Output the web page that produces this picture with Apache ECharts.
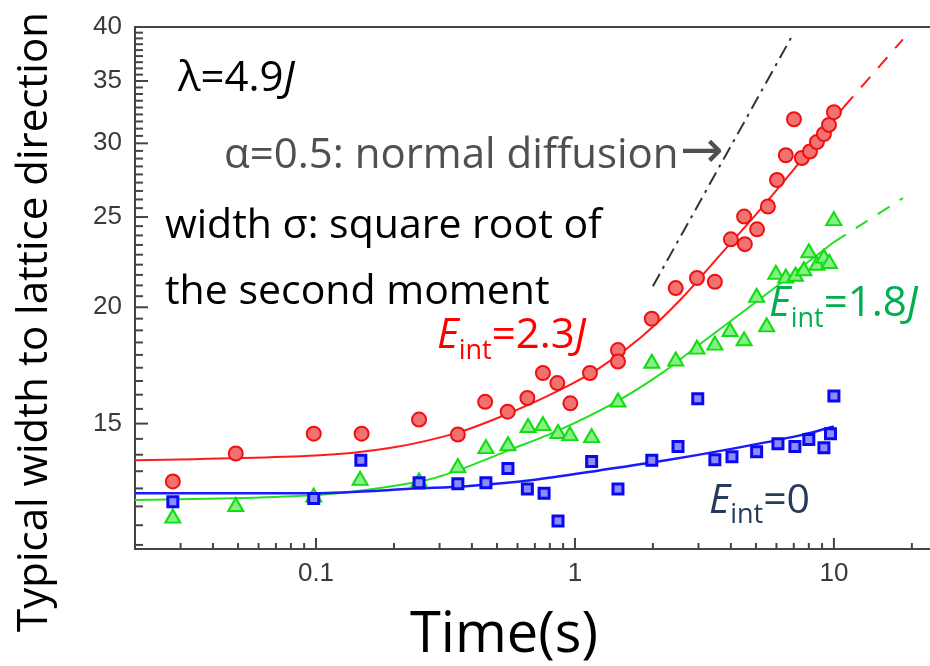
<!DOCTYPE html>
<html><head><meta charset="utf-8">
<script src="https://cdn.jsdelivr.net/npm/echarts@6/dist/echarts.min.js"></script>
<style>html,body{margin:0;padding:0;background:#fff}#c{width:930px;height:666px}</style>
</head><body><div id="c"></div>
<script>
// ---- axis ranges & ticks ----
const xMin = 0.02, xMax = 23.5, yMin = 11, yMax = 40;
const xMajorTicks = [0.1, 1, 10];
const xTickLabels = ['0.1', '1', '10'];
const xMinorTicks = [0.03,0.04,0.05,0.06,0.07,0.08,0.09,0.2,0.3,0.4,0.5,0.6,0.7,0.8,0.9,2,3,4,5,6,7,8,9,20];
const yMajorTicks = [15, 20, 25, 30, 35, 40];
const yTickLabels = ['15', '20', '25', '30', '35', '40'];
const yMinorPerInterval = 8;

// ---- data: E_int = 2.3J (red circles) ----
const redPoints = [[0.028,13.0],[0.049,13.93],[0.098,14.63],[0.15,14.63],[0.25,15.15],[0.353,14.6],[0.45,15.83],[0.55,15.45],[0.655,15.98],[0.752,17.0],[0.855,16.58],[0.96,15.77],[1.143,17.0],[1.466,17.99],[1.466,17.49],[1.98,19.44],[2.45,20.97],[2.96,21.5],[3.47,21.3],[4.0,23.66],[4.53,23.38],[4.5,25.03],[5.05,24.25],[5.56,25.66],[6.03,27.4],[6.52,29.13],[7.01,31.84],[7.52,28.93],[8.08,29.4],[8.6,30.1],[9.15,30.7],[9.57,31.4],[10.0,32.4]];
// ---- data: E_int = 1.8J (green triangles) ----
const greenPoints = [[0.028,11.93],[0.049,12.28],[0.098,12.57],[0.148,13.1],[0.25,13.05],[0.353,13.52],[0.453,14.17],[0.551,14.27],[0.659,14.93],[0.752,15.0],[0.86,14.71],[0.956,14.63],[1.16,14.56],[1.466,15.9],[1.98,17.5],[2.45,17.6],[2.96,18.12],[3.47,18.3],[3.97,18.93],[4.5,18.5],[5.03,20.6],[5.5,19.15],[5.97,21.8],[6.52,21.6],[7.1,21.7],[7.65,22.0],[8.0,23.0],[8.6,22.3],[9.15,22.7],[9.6,22.4],[9.99,24.9]];
// ---- data: E_int = 0 (blue squares) ----
const bluePoints = [[0.028,12.36],[0.098,12.46],[0.149,13.7],[0.25,12.96],[0.353,12.93],[0.453,12.96],[0.551,13.42],[0.655,12.76],[0.76,12.63],[0.86,11.79],[1.16,13.66],[1.466,12.76],[1.98,13.7],[2.5,14.17],[2.98,15.95],[3.47,13.72],[4.04,13.82],[5.03,13.99],[6.08,14.27],[7.07,14.17],[8.0,14.42],[9.15,14.13],[9.7,14.63],[10.0,16.06]];

// ---- fitted curves ----
const redFit = [[0.02,13.7],[0.1,13.86],[0.195,14.13],[0.353,14.67],[0.551,15.37],[0.86,16.26],[1.26,17.25],[1.8,18.57],[2.57,20.41],[3.66,22.81],[5.23,25.53],[7.46,28.74],[10.93,32.82]];
const redDash = [[10.93,32.82],[18.47,38.8]];
const greenFit = [[0.02,12.42],[0.1,12.57],[0.25,12.99],[0.353,13.36],[0.551,14.03],[0.86,14.74],[1.466,15.87],[2.15,16.97],[3.07,18.3],[5.23,20.45],[10.0,23.5]];
const greenDash = [[10.0,23.5],[18.47,26.2]];
const blueFit = [[0.02,12.63],[0.098,12.63],[0.25,12.78],[0.38,12.85],[0.688,13.05],[1.24,13.36],[2.25,13.7],[4.07,14.1],[7.33,14.56],[10.0,14.89]];
const normalDiffusion = [[2.0,21.07],[7.0,39.42]];

// build y minor ticks
const yMinorTicks = [];
const yMajAll = [10].concat(yMajorTicks);
for (let i = 0; i < yMajAll.length - 1; i++) {
  const a = yMajAll[i], b = yMajAll[i+1];
  for (let k = 1; k <= yMinorPerInterval; k++) {
    const v = b - (b - a) * k / (yMinorPerInterval + 1);
    if (v > yMin && v < yMax) yMinorTicks.push(v);
  }
}

const AX = '#444';
function tickSeries(data, horizontal, len) {
  return {
    type: 'custom', silent: true, clip: false, z: 5,
    data: data,
    renderItem: function (params, api) {
      const p = api.coord([api.value(0), api.value(1)]);
      const shape = horizontal
        ? {x1: p[0], y1: p[1], x2: p[0] + len, y2: p[1]}
        : {x1: p[0], y1: p[1], x2: p[0], y2: p[1] - len};
      return {type: 'line', shape: shape, style: {stroke: AX, lineWidth: 2}};
    }
  };
}
function labelSeries(data, labels, vertical) {
  return {
    type: 'custom', silent: true, clip: false, z: 5,
    data: data,
    renderItem: function (params, api) {
      const p = api.coord([api.value(0), api.value(1)]);
      return {
        type: 'text',
        x: vertical ? p[0] - 13 : p[0],
        y: vertical ? p[1] : p[1] + 25,
        style: {
          text: labels[params.dataIndex],
          fill: '#3a3a3a',
          font: '26px "Liberation Sans", Arial, sans-serif',
          align: vertical ? 'right' : 'center',
          verticalAlign: 'middle'
        }
      };
    }
  };
}

const chart = echarts.init(document.getElementById('c'), null, {renderer: 'canvas'});
const FONT = '"Open Sans", "DejaVu Sans", sans-serif';

function richE(main, italicJ, color, size, sub, pad) {
  return {
    text: '{e|E}{s|int}{n|' + main + '}' + (italicJ ? '{j|J}' : ''),
    verticalAlign: 'middle',
    rich: {
      e: {fontStyle: 'italic', fontSize: size, fontFamily: FONT, fill: color},
      s: {fontSize: sub, fontFamily: FONT, fill: color, padding: [pad, 0, 0, 0]},
      n: {fontSize: size, fontFamily: FONT, fill: color},
      j: {fontStyle: 'italic', fontSize: size, fontFamily: FONT, fill: color}
    }
  };
}

const axisOff = {axisTick: {show: false}, axisLabel: {show: false}, splitLine: {show: false}};
const lineOn = {show: true, lineStyle: {color: AX, width: 2}};
const option = {
  animation: false,
  backgroundColor: '#fff',
  grid: {left: 135, top: 27, right: 0, bottom: 117, show: false},
  xAxis: [
    Object.assign({type: 'log', min: xMin, max: xMax, position: 'bottom', axisLine: lineOn}, axisOff),
    Object.assign({type: 'log', min: xMin, max: xMax, position: 'top', axisLine: lineOn}, axisOff)
  ],
  yAxis: Object.assign({type: 'log', min: yMin, max: yMax, axisLine: lineOn}, axisOff),
  graphic: [
    {type: 'text', x: 178, y: 79, z: 20, style: {text: '{n|λ=4.9}{i|J}', verticalAlign: 'middle',
      rich: {n: {fontSize: 42, fontFamily: FONT, fill: '#000'}, i: {fontSize: 42, fontStyle: 'italic', fontFamily: FONT, fill: '#000'}}}},
    {type: 'text', x: 224, y: 156, z: 20, style: {text: 'α=0.5: normal diffusion', font: '42px ' + FONT, fill: '#505050', verticalAlign: 'middle'}},
    {type: 'text', x: 680, y: 153, z: 20, style: {text: '→', font: '52px "DejaVu Sans", sans-serif', fill: '#505050', verticalAlign: 'middle'}},
    {type: 'text', x: 165, y: 226, z: 20, style: {text: 'width σ: square root of', font: '41px ' + FONT, fill: '#000', verticalAlign: 'middle'}},
    {type: 'text', x: 165, y: 292, z: 20, style: {text: 'the second moment', font: '41px ' + FONT, fill: '#000', verticalAlign: 'middle'}},
    {type: 'text', x: 504, y: 636, z: 20, style: {text: 'Time(s)', font: '56px ' + FONT, fill: '#000', align: 'center', verticalAlign: 'middle'}},
    {type: 'text', x: 35, y: 322, rotation: Math.PI / 2, z: 20, style: {text: 'Typical width to lattice direction', font: '42px ' + FONT, fill: '#000', align: 'center', verticalAlign: 'middle'}},
    {type: 'text', x: 437, y: 336, z: 20, style: richE('=2.3', true, '#ff0000', 42, 27, 30)},
    {type: 'text', x: 769, y: 304, z: 20, style: richE('=1.8', true, '#00b050', 42, 27, 30)},
    {type: 'text', x: 709, y: 501, z: 20, style: richE('=0', false, '#243b5a', 41, 27, 28)}
  ],
  series: [
    tickSeries(xMajorTicks.map(v => [v, yMin]), false, 11),
    tickSeries(xMinorTicks.map(v => [v, yMin]), false, 6),
    tickSeries(yMajorTicks.map(v => [xMin, v]), true, 13),
    tickSeries(yMinorTicks.map(v => [xMin, v]), true, 8),
    labelSeries(xMajorTicks.map(v => [v, yMin]), xTickLabels, false),
    labelSeries(yMajorTicks.map(v => [xMin, v]), yTickLabels, true),
    {type: 'line', data: normalDiffusion, symbol: 'none', lineStyle: {color: '#333', width: 2, type: [14, 6, 3, 6]}, z: 3},
    {type: 'line', data: redFit, smooth: 0.3, symbol: 'none', lineStyle: {color: '#ff1a1a', width: 2}, z: 3},
    {type: 'line', data: redDash, symbol: 'none', lineStyle: {color: '#ff1a1a', width: 2, type: [14, 12]}, z: 3},
    {type: 'line', data: greenFit, smooth: 0.3, symbol: 'none', lineStyle: {color: '#22e022', width: 2}, z: 3},
    {type: 'line', data: greenDash, symbol: 'none', lineStyle: {color: '#22e022', width: 2, type: [14, 12]}, z: 3},
    {type: 'line', data: blueFit, smooth: 0.3, symbol: 'none', lineStyle: {color: '#1a1aff', width: 2.5}, z: 3},
    {type: 'scatter', data: redPoints, symbol: 'circle', symbolSize: 14, z: 4,
      itemStyle: {color: '#f27272', borderColor: '#f01010', borderWidth: 2, opacity: 1}},
    {type: 'scatter', data: greenPoints, symbol: 'triangle', symbolSize: [15, 13], z: 4,
      itemStyle: {color: '#86f086', borderColor: '#10dd10', borderWidth: 2, opacity: 1}},
    {type: 'scatter', data: bluePoints, symbol: 'rect', symbolSize: 10, z: 4,
      itemStyle: {color: '#8c8cff', borderColor: '#0a0af0', borderWidth: 3, opacity: 1}}
  ]
};
chart.setOption(option);
</script>
</body></html>
